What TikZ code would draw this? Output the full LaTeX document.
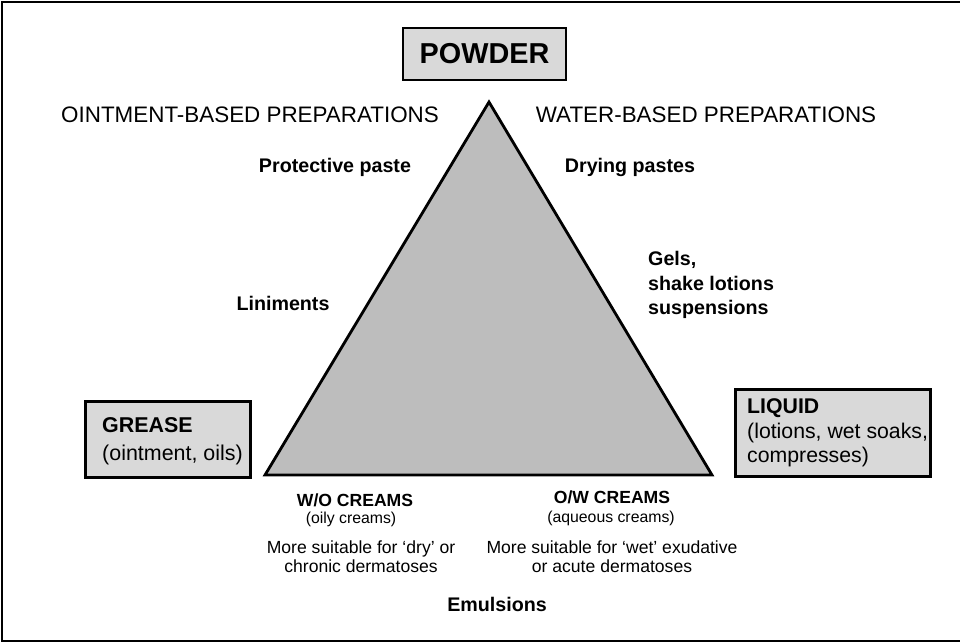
\documentclass[tikz,border=0pt]{standalone}
\usepackage{fontspec}
\setmainfont{Liberation Sans}
\definecolor{trigray}{HTML}{BDBDBD}
\definecolor{boxgray}{HTML}{D9D9D9}
\begin{document}
\begin{tikzpicture}[x=0.02cm,y=-0.02cm,
  phase/.style={draw,line width=1.6pt,fill=boxgray,inner sep=0pt},
  lbl/.style={font=\bfseries\fontsize{11.2}{13.9}\selectfont,align=center},
  side/.style={font=\fontsize{12.75}{15}\selectfont},
  small/.style={font=\fontsize{10}{10.8}\selectfont,align=center}]
\useasboundingbox (0,0) rectangle (960,643);
\draw[line width=1pt] (960,2)--(2,2)--(2,641)--(960,641);

% the three corners
\coordinate (P)at(489,102);
\coordinate (G)at(265,475);
\coordinate (L)at(712,475);
\draw[line width=1.6pt,fill=trigray,line join=miter] (P)--(G)--(L)--cycle;

% boxes
\node[phase,minimum width=3.26cm,minimum height=1.04cm] (powder)at(484.5,54){};
\node[font=\bfseries\fontsize{16.4}{18}\selectfont] (powdert)at(powder){POWDER};
\node[phase,minimum width=3.3cm,minimum height=1.52cm,anchor=north west] (grease)at(84,400){};
\node[anchor=west,align=left,font=\fontsize{12.2}{14.2}\selectfont] (greaset)at(96,441)
  {\textbf{GREASE}\\[1.5pt](ointment, oils)};
\node[phase,minimum width=3.9cm,minimum height=1.74cm,anchor=north west] (liquid)at(734,388){};
\node[anchor=west,align=left,font=\fontsize{12.1}{14}\selectfont] (liquidt)at(741,433)
  {\textbf{LIQUID}\\(lotions, wet soaks,\\compresses)};

% side headings
\node[side] (oint)at(250,115){OINTMENT-BASED PREPARATIONS};
\node[side] (water)at(706,115){WATER-BASED PREPARATIONS};

% along the sides
\node[lbl] (paste)at(335,167){Protective paste};
\node[lbl] (drying)at(630,167){Drying pastes};
\node[lbl] (lin)at(283,303){Liniments};
\node[lbl,align=left,anchor=west] (gels)at(642,285){Gels,\\shake lotions\\suspensions};

% along the base
\node[lbl,font=\bfseries\fontsize{10}{11}\selectfont] (wo)at(355,500){W/O CREAMS};
\node[small,font=\fontsize{9}{10}\selectfont] (woc)at(351,519){(oily creams)};
\node[small] (wot)at(361,557){More suitable for `dry' or\\chronic dermatoses};
\node[lbl,font=\bfseries\fontsize{10}{11}\selectfont] (ow)at(612,497){O/W CREAMS};
\node[small,font=\fontsize{9}{10}\selectfont] (owc)at(611,518){(aqueous creams)};
\node[small] (owt)at(612,557){More suitable for `wet' exudative\\or acute dermatoses};
\node[lbl] (emul)at(497,604){Emulsions};
\end{tikzpicture}
\end{document}
